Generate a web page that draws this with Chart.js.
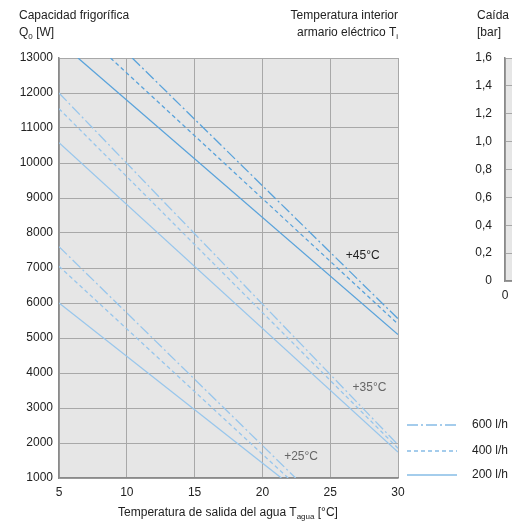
<!DOCTYPE html>
<html>
<head>
<meta charset="utf-8">
<script src="https://cdn.jsdelivr.net/npm/chart.js@4.4.0/dist/chart.umd.min.js"></script>
<style>
  html, body { margin:0; padding:0; background:#fff; width:512px; height:526px; overflow:hidden; position:relative; }
  .t { position:absolute; font-family:"Liberation Sans", Arial, sans-serif; font-size:12px; color:#222; line-height:14px; white-space:nowrap; }
  .t sub { font-family:"Liberation Sans", Arial, sans-serif; font-size:8px; vertical-align:-3px; line-height:0; }
  #main { position:absolute; left:0; top:0; }
  #side { position:absolute; left:440px; top:0; }
</style>
</head>
<body>
<canvas id="main" width="512" height="526" style="width:512px;height:526px"></canvas>
<canvas id="side" width="200" height="526" style="width:200px;height:526px"></canvas>

<div class="t" style="left:19px;top:8px">Capacidad frigorífica</div>
<div class="t" style="left:19px;top:25px">Q<sub>0</sub> [W]</div>
<div class="t" style="right:114px;top:8px;text-align:right">Temperatura interior</div>
<div class="t" style="right:114px;top:25px;text-align:right">armario eléctrico T<sub>i</sub></div>
<div class="t" style="left:228px;top:505px;transform:translateX(-50%)">Temperatura de salida del agua T<sub>agua</sub> [°C]</div>
<div class="t" style="left:477px;top:8px">Caída</div>
<div class="t" style="left:477px;top:25px">[bar]</div>

<script>
// ---- Data ----
const xTicks = [5, 10, 15, 20, 25, 30];
const yTicks = [1000, 2000, 3000, 4000, 5000, 6000, 7000, 8000, 9000, 10000, 11000, 12000, 13000];

// +45 °C interior temperature
const t45_200_x = [6.4, 30];   const t45_200_y = [13000, 5100];
const t45_400_x = [8.8, 30];   const t45_400_y = [13000, 5400];
const t45_600_x = [10.4, 30];  const t45_600_y = [13000, 5550];
// +35 °C
const t35_200_x = [5, 30];     const t35_200_y = [10580, 1740];
const t35_400_x = [5, 30];     const t35_400_y = [11550, 1850];
const t35_600_x = [5, 30];     const t35_600_y = [12000, 1950];
// +25 °C
const t25_200_x = [5, 21.4];   const t25_200_y = [6000, 1000];
const t25_400_x = [5, 21.9];   const t25_400_y = [7050, 1000];
const t25_600_x = [5, 22.45];  const t25_600_y = [7610, 1000];

const flowLabels = ["600 l/h", "400 l/h", "200 l/h"];
const tempLabels = ["+45°C", "+35°C", "+25°C"];
const tempLabelX = [27.4, 27.9, 22.85];
const tempLabelY = [7340, 3570, 1600];

// partial second chart (pressure drop)
const dpTicks = [0, 0.2, 0.4, 0.6, 0.8, 1.0, 1.2, 1.4, 1.6];

// ---- Styles ----
const dark = '#5aa3db';
const light = '#98c6ec';
const dashStyles = { "600 l/h": [11, 3, 2, 3], "400 l/h": [4, 3], "200 l/h": [] };

function pts(xs, ys) { return xs.map((x, i) => ({ x: x, y: ys[i] })); }
function ds(xs, ys, color, flow) {
  return { label: flow, data: pts(xs, ys), borderColor: color, borderWidth: 1.3,
           borderDash: dashStyles[flow], pointRadius: 0, fill: false, tension: 0 };
}

const datasets = [
  ds(t45_600_x, t45_600_y, dark, "600 l/h"),
  ds(t45_400_x, t45_400_y, dark, "400 l/h"),
  ds(t45_200_x, t45_200_y, dark, "200 l/h"),
  ds(t35_600_x, t35_600_y, light, "600 l/h"),
  ds(t35_400_x, t35_400_y, light, "400 l/h"),
  ds(t35_200_x, t35_200_y, light, "200 l/h"),
  ds(t25_600_x, t25_600_y, light, "600 l/h"),
  ds(t25_400_x, t25_400_y, light, "400 l/h"),
  ds(t25_200_x, t25_200_y, light, "200 l/h"),
];

const bgPlugin = {
  id: 'bg',
  beforeDraw(chart) {
    const a = chart.chartArea, c = chart.ctx;
    c.save(); c.fillStyle = '#e6e6e6';
    c.fillRect(a.left, a.top, a.right - a.left, a.bottom - a.top);
    c.restore();
  }
};

const extrasPlugin = {
  id: 'extras',
  afterDraw(chart) {
    const c = chart.ctx, xs = chart.scales.x, ys = chart.scales.y;
    c.save();
    c.font = '12px "Liberation Sans", Arial, sans-serif';
    c.textAlign = 'center'; c.textBaseline = 'middle';
    const cols = ['#222', '#666', '#666'];
    tempLabels.forEach((t, i) => {
      c.fillStyle = cols[i];
      c.fillText(t, xs.getPixelForValue(tempLabelX[i]), ys.getPixelForValue(tempLabelY[i]));
    });
    // legend
    const ly = [425, 451, 475];
    flowLabels.forEach((f, i) => {
      c.beginPath();
      c.setLineDash(dashStyles[f]);
      c.strokeStyle = '#86bce6'; c.lineWidth = 1.3;
      c.moveTo(407, ly[i]); c.lineTo(457, ly[i]); c.stroke();
      c.setLineDash([]);
      c.fillStyle = '#222'; c.textAlign = 'left';
      c.fillText(f, 472, ly[i]);
    });
    c.restore();
  }
};

const font = { family: '"Liberation Sans", Arial, sans-serif', size: 12 };

new Chart(document.getElementById('main'), {
  type: 'line',
  data: { datasets: datasets },
  options: {
    responsive: false, animation: false, devicePixelRatio: 1,
    layout: { padding: { left: 0, top: 58, right: 114, bottom: 0 } },
    plugins: { legend: { display: false }, tooltip: { enabled: false } },
    scales: {
      x: {
        type: 'linear', min: 5, max: 30,
        afterBuildTicks: s => { s.ticks = xTicks.map(v => ({ value: v })); },
        afterFit: s => { s.height = 48; },
        ticks: { font: font, color: '#222', padding: 7, maxRotation: 0, callback: v => String(v) },
        grid: { color: '#a8a8a8', lineWidth: 1, drawTicks: false },
        border: { color: '#8a8a8a', width: 1.5 }
      },
      y: {
        type: 'linear', min: 1000, max: 13000,
        afterBuildTicks: s => { s.ticks = yTicks.map(v => ({ value: v })); },
        afterFit: s => { s.width = 59; },
        ticks: { font: font, color: '#222', padding: 6, callback: v => String(v) },
        grid: { color: '#a8a8a8', lineWidth: 1, drawTicks: false },
        border: { color: '#8a8a8a', width: 1.5 }
      }
    }
  },
  plugins: [bgPlugin, extrasPlugin]
});

new Chart(document.getElementById('side'), {
  type: 'line',
  data: { datasets: [] },
  options: {
    responsive: false, animation: false, devicePixelRatio: 1,
    layout: { padding: { left: 0, top: 58, right: 0, bottom: 0 } },
    plugins: { legend: { display: false }, tooltip: { enabled: false } },
    scales: {
      x: {
        type: 'linear', min: 0, max: 10,
        afterBuildTicks: s => { s.ticks = [{ value: 0 }]; },
        afterFit: s => { s.height = 245; },
        ticks: { font: font, color: '#222', padding: 7, maxRotation: 0, callback: v => String(v) },
        grid: { color: '#a8a8a8', lineWidth: 1, drawTicks: false },
        border: { color: '#8a8a8a', width: 1.5 }
      },
      y: {
        type: 'linear', min: 0, max: 1.6,
        afterBuildTicks: s => { s.ticks = dpTicks.map(v => ({ value: v })); },
        afterFit: s => { s.width = 65; },
        ticks: { font: font, color: '#222', padding: 13,
                 callback: v => v === 0 ? '0' : v.toFixed(1).replace('.', ',') },
        grid: { color: '#a8a8a8', lineWidth: 1, drawTicks: false },
        border: { color: '#8a8a8a', width: 1.5 }
      }
    }
  },
  plugins: [bgPlugin]
});
</script>
</body>
</html>
